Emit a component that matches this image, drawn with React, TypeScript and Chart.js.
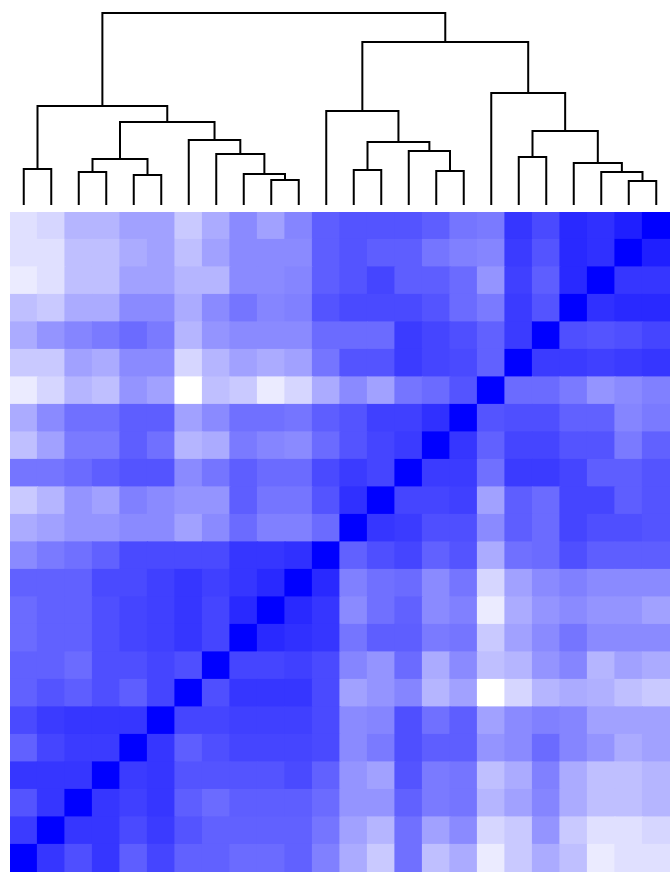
import React, { useEffect, useRef } from "react";
import { Chart, registerables } from "chart.js";

Chart.register(...registerables);

// Leaf order (left to right = columns; rows are shown bottom to top)
const leaves = [
  "L01", "L02", "L03", "L04", "L05", "L06", "L07", "L08", "L09", "L10", "L11", "L12",
  "L13", "L14", "L15", "L16", "L17", "L18", "L19", "L20", "L21", "L22", "L23", "L24",
];

// Similarity matrix as displayed: row 0 = top row, column 0 = left column
const similarity: number[][] = [
  [.12, .16, .29, .29, .37, .37, .21, .33, .46, .37, .48, .63, .67, .67, .67, .63, .54, .52, .79, .71, .84, .81, .88, 1],
  [.12, .12, .25, .25, .33, .37, .25, .37, .46, .46, .46, .63, .67, .63, .63, .54, .50, .48, .77, .67, .84, .81, 1, .88],
  [.08, .12, .25, .25, .37, .37, .29, .29, .46, .46, .48, .63, .67, .73, .63, .63, .58, .42, .75, .63, .84, 1, .79, .79],
  [.25, .21, .33, .33, .46, .46, .33, .46, .54, .48, .50, .67, .71, .71, .71, .67, .58, .52, .77, .67, 1, .81, .84, .84],
  [.33, .42, .48, .52, .58, .52, .29, .42, .46, .46, .46, .58, .58, .58, .77, .73, .69, .62, .77, 1, .69, .67, .69, .73],
  [.21, .21, .37, .33, .46, .46, .16, .29, .37, .33, .37, .54, .67, .67, .77, .73, .71, .62, 1, .77, .77, .75, .77, .79],
  [.08, .16, .29, .25, .42, .37, 0, .25, .21, .08, .16, .33, .46, .37, .54, .58, .67, 1, .58, .58, .52, .42, .46, .50],
  [.33, .46, .56, .56, .63, .63, .37, .46, .56, .56, .54, .63, .67, .75, .75, .81, 1, .67, .69, .69, .62, .62, .48, .52],
  [.25, .37, .52, .52, .63, .56, .29, .33, .52, .48, .46, .58, .67, .73, .77, 1, .79, .62, .73, .73, .67, .67, .52, .62],
  [.54, .54, .58, .63, .67, .67, .46, .54, .63, .58, .58, .71, .77, .73, 1, .77, .77, .56, .77, .77, .73, .63, .63, .67],
  [.21, .29, .42, .37, .50, .46, .42, .42, .63, .54, .54, .67, .81, 1, .73, .73, .75, .37, .63, .58, .73, .73, .63, .67],
  [.33, .37, .42, .42, .46, .46, .37, .46, .58, .50, .50, .58, 1, .79, .77, .69, .69, .46, .63, .58, .73, .69, .69, .67],
  [.46, .52, .56, .62, .71, .71, .71, .71, .79, .79, .81, 1, .62, .69, .73, .62, .67, .33, .56, .58, .69, .63, .63, .63],
  [.62, .62, .62, .71, .71, .75, .79, .75, .79, .84, 1, .84, .50, .56, .58, .46, .54, .16, .37, .46, .50, .46, .46, .46],
  [.58, .62, .62, .69, .73, .75, .79, .73, .84, 1, .84, .79, .46, .56, .62, .46, .50, .08, .33, .42, .46, .42, .42, .37],
  [.58, .62, .62, .69, .73, .75, .79, .73, 1, .84, .81, .79, .54, .63, .63, .52, .54, .21, .37, .46, .54, .46, .46, .46],
  [.62, .62, .58, .69, .69, .73, .69, 1, .73, .73, .75, .71, .48, .42, .58, .33, .46, .25, .29, .42, .48, .29, .37, .33],
  [.62, .67, .63, .69, .63, .73, 1, .69, .79, .79, .79, .71, .37, .42, .48, .29, .37, 0, .16, .29, .33, .31, .25, .21],
  [.71, .77, .79, .79, .79, 1, .73, .73, .75, .75, .75, .71, .46, .48, .69, .56, .63, .37, .46, .50, .48, .37, .37, .37],
  [.62, .73, .77, .77, 1, .79, .63, .69, .73, .73, .73, .71, .46, .52, .69, .63, .63, .42, .46, .58, .48, .42, .33, .37],
  [.79, .79, .79, 1, .77, .79, .67, .67, .67, .67, .71, .62, .42, .37, .67, .52, .54, .25, .33, .50, .33, .25, .25, .29],
  [.67, .79, 1, .79, .75, .79, .63, .58, .63, .63, .63, .58, .42, .42, .62, .52, .54, .29, .37, .48, .33, .25, .25, .29],
  [.77, 1, .79, .79, .71, .77, .67, .62, .62, .62, .62, .54, .37, .29, .56, .37, .46, .16, .21, .42, .21, .12, .12, .16],
  [1, .79, .69, .79, .63, .73, .62, .62, .58, .58, .62, .50, .33, .21, .56, .25, .33, .08, .21, .33, .25, .08, .12, .12],
];

// Dendrogram merges: [left, right, height]; ids >= 24 refer to earlier merges (24 + merge index)
const mergeLeft = [0, 2, 4, 25, 9, 8, 7, 6, 27, 24, 12, 15, 14, 34, 11, 22, 21, 20, 18, 42, 17, 38, 33];
const mergeRight = [1, 3, 5, 26, 10, 28, 29, 30, 31, 32, 13, 16, 35, 36, 37, 23, 39, 40, 19, 41, 43, 44, 45];
const mergeHeight = [36, 33, 30, 46, 25, 31, 51, 65, 83, 99, 35, 34, 54, 63, 94, 24, 33, 42, 48, 74, 112, 163, 192];

const HEAT_LEFT = 10;
const HEAT_TOP = 212;
const HEAT_SIZE = 660;
const DENDRO_HEIGHT = 205;

function cellColor(v: number): string {
  const c = Math.round(255 * (1 - v));
  return `rgb(${c},${c},255)`;
}

export default function App() {
  const dendroRef = useRef<HTMLCanvasElement | null>(null);
  const heatRef = useRef<HTMLCanvasElement | null>(null);

  useEffect(() => {
    const n = leaves.length;
    // Dendrogram
    const xs: number[] = leaves.map((_, i) => i + 0.5);
    const hs: number[] = leaves.map(() => 0);
    const dendroSets: any[] = [];
    mergeLeft.forEach((a, k) => {
      const b = mergeRight[k];
      const h = mergeHeight[k];
      dendroSets.push({
        data: [
          { x: xs[a], y: hs[a] },
          { x: xs[a], y: h },
          { x: xs[b], y: h },
          { x: xs[b], y: hs[b] },
        ],
        showLine: true,
        borderColor: "#000000",
        borderWidth: 2,
        pointRadius: 0,
        tension: 0,
        borderJoinStyle: "miter",
        borderCapStyle: "butt",
        clip: false,
      });
      xs.push((xs[a] + xs[b]) / 2);
      hs.push(h);
    });

    const dendro = new Chart(dendroRef.current!, {
      type: "scatter",
      data: { datasets: dendroSets },
      options: {
        animation: false,
        responsive: false,
        devicePixelRatio: 1,
        events: [],
        layout: { padding: 0 },
        plugins: { legend: { display: false }, tooltip: { enabled: false } },
        scales: {
          x: { type: "linear", min: 0, max: n, display: false },
          y: { type: "linear", min: 0, max: DENDRO_HEIGHT, display: false },
        },
      },
    });

    // Heatmap: stacked bars, bottom row first
    const heatSets: any[] = [];
    for (let r = n - 1; r >= 0; r--) {
      heatSets.push({
        data: leaves.map(() => 1),
        backgroundColor: similarity[r].map(cellColor),
        borderWidth: 0,
        barPercentage: 1,
        categoryPercentage: 1,
        inflateAmount: 0.6,
        clip: 0,
      });
    }
    const heat = new Chart(heatRef.current!, {
      type: "bar",
      data: { labels: leaves, datasets: heatSets },
      options: {
        animation: false,
        responsive: false,
        devicePixelRatio: 1,
        events: [],
        layout: { padding: 0 },
        plugins: { legend: { display: false }, tooltip: { enabled: false } },
        scales: {
          x: { stacked: true, display: false, offset: true },
          y: { stacked: true, min: 0, max: n, display: false },
        },
      },
    });

    return () => {
      dendro.destroy();
      heat.destroy();
    };
  }, []);

  return (
    <div style={{ position: "fixed", left: 0, top: 0, width: 672, height: 874, background: "#ffffff" }}>
      <canvas
        ref={dendroRef}
        width={HEAT_SIZE}
        height={DENDRO_HEIGHT}
        style={{ position: "absolute", left: HEAT_LEFT, top: 0, width: HEAT_SIZE, height: DENDRO_HEIGHT }}
      />
      <canvas
        ref={heatRef}
        width={HEAT_SIZE}
        height={HEAT_SIZE}
        style={{ position: "absolute", left: HEAT_LEFT, top: HEAT_TOP, width: HEAT_SIZE, height: HEAT_SIZE }}
      />
    </div>
  );
}
